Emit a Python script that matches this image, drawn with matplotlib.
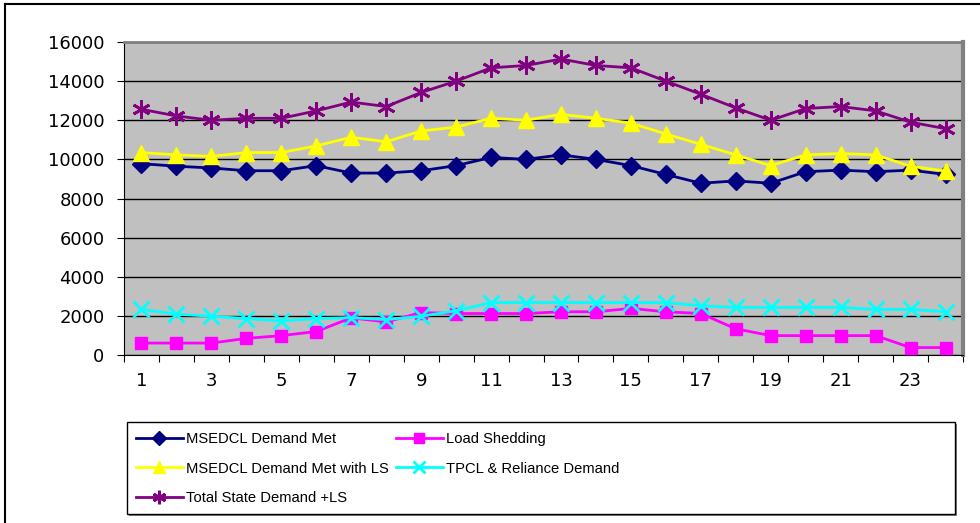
import numpy as np
import matplotlib
matplotlib.use('Agg')
from matplotlib import pyplot as plt
from matplotlib.lines import Line2D
from matplotlib.patches import Rectangle

plt.rcParams['font.family'] = ['Liberation Sans', 'DejaVu Sans']

hours = list(range(1, 25))
msedcl_met = [9780, 9650, 9560, 9420, 9420, 9680, 9300, 9300, 9420, 9680, 10100, 10000,
              10230, 10000, 9680, 9230, 8780, 8900, 8780, 9370, 9450, 9370, 9450, 9230]
load_shedding = [610, 610, 610, 850, 990, 1200, 1900, 1690, 2170, 2120, 2120, 2120,
                 2210, 2210, 2380, 2210, 2120, 1340, 990, 990, 990, 990, 380, 380]
msedcl_with_ls = [10350, 10230, 10150, 10350, 10350, 10690, 11130, 10900, 11450, 11650, 12100, 12000,
                  12300, 12100, 11850, 11300, 10770, 10230, 9680, 10230, 10300, 10230, 9650, 9400]
tpcl_reliance = [2330, 2090, 1980, 1860, 1740, 1860, 1910, 1810, 1980, 2260, 2680, 2680,
                 2680, 2680, 2680, 2680, 2520, 2430, 2430, 2430, 2430, 2330, 2330, 2210]
total_state = [12560, 12220, 12000, 12100, 12100, 12480, 12930, 12700, 13420, 14000, 14680, 14800,
               15130, 14800, 14680, 14000, 13330, 12630, 12000, 12600, 12700, 12480, 11900, 11570]

series = [
    ('MSEDCL Demand Met', msedcl_met, '#000080', 'D', 9),
    ('Load Shedding', load_shedding, '#FF00FF', 's', 9),
    ('MSEDCL Demand Met with LS', msedcl_with_ls, '#FFFF00', '^', 11),
    ('TPCL & Reliance Demand', tpcl_reliance, '#00FFFF', 'x', 11),
    ('Total State Demand +LS', total_state, '#800080', (6, 2, 0), 13),
]

fig = plt.figure(figsize=(9.8, 5.23), dpi=100)
ax = fig.add_axes([124/980, 1-355/523, (963-124)/980, (355-42)/523])
ax.set_facecolor('#C0C0C0')

handles = []
for name, vals, col, mk, ms in series:
    mew = 2 if mk == 'x' or isinstance(mk, tuple) else 1
    h, = ax.plot(hours, vals, color=col, lw=2, marker=mk, markersize=ms,
                 markeredgewidth=mew, markeredgecolor=col, markerfacecolor=col,
                 label=name, zorder=3)
    handles.append(h)

ax.set_xlim(0.5, 24.5)
ax.set_ylim(0, 16000)
ax.set_yticks(np.arange(0, 16001, 2000))
ax.yaxis.grid(True, color='black', lw=1)
ax.set_axisbelow(True)

# category axis: ticks on boundaries, labels on odd hours
ax.set_xticks(np.arange(0.5, 25, 1))
ax.set_xticklabels([])
ax.set_xticks([h for h in hours if h % 2 == 1], minor=True)
ax.set_xticklabels([str(h) for h in hours if h % 2 == 1], minor=True)
ax.tick_params(axis='x', which='minor', length=0, pad=12, labelsize=13)
ax.tick_params(axis='x', which='major', length=5, direction='out', color='black')
ax.tick_params(axis='y', length=5, direction='out', labelsize=13, pad=9)
for lab in ax.get_yticklabels() + ax.get_xticklabels(minor=True):
    lab.set_family('DejaVu Sans')

ax.spines['left'].set_color('black')
ax.spines['bottom'].set_color('black')
ax.spines['top'].set_color('#808080')
ax.spines['top'].set_linewidth(2)
ax.spines['right'].set_color('#808080')
ax.spines['right'].set_linewidth(3)

# outer chart frame
fig.add_artist(Line2D([5/980, 5/980], [0, 1-4/523], color='black', lw=1.5, transform=fig.transFigure))
fig.add_artist(Line2D([5/980, 1], [1-4/523, 1-4/523], color='black', lw=1.5, transform=fig.transFigure))

# legend box
fig.add_artist(Rectangle((129/980, 7/523), 828/980, 92/523, transform=fig.transFigure,
                         facecolor='#808080', edgecolor='none', zorder=0))
fig.add_artist(Rectangle((127/980, 9/523), 828/980, 92/523, transform=fig.transFigure,
                         facecolor='white', edgecolor='black', lw=1, zorder=0.5))

legend_kw = dict(loc='upper left', fontsize=10.6, handlelength=3.15, handletextpad=0.27,
                 labelspacing=1.05, borderpad=0.62, borderaxespad=0, frameon=False,
                 markerscale=0.75)
cols = [[0, 2, 4], [1, 3]]
for x0, idx in zip([127, 387], cols):
    fig.legend([handles[i] for i in idx], [series[i][0] for i in idx],
               bbox_to_anchor=(x0/980, 1-423/523), **legend_kw)

fig.savefig('out.png', dpi=100)
